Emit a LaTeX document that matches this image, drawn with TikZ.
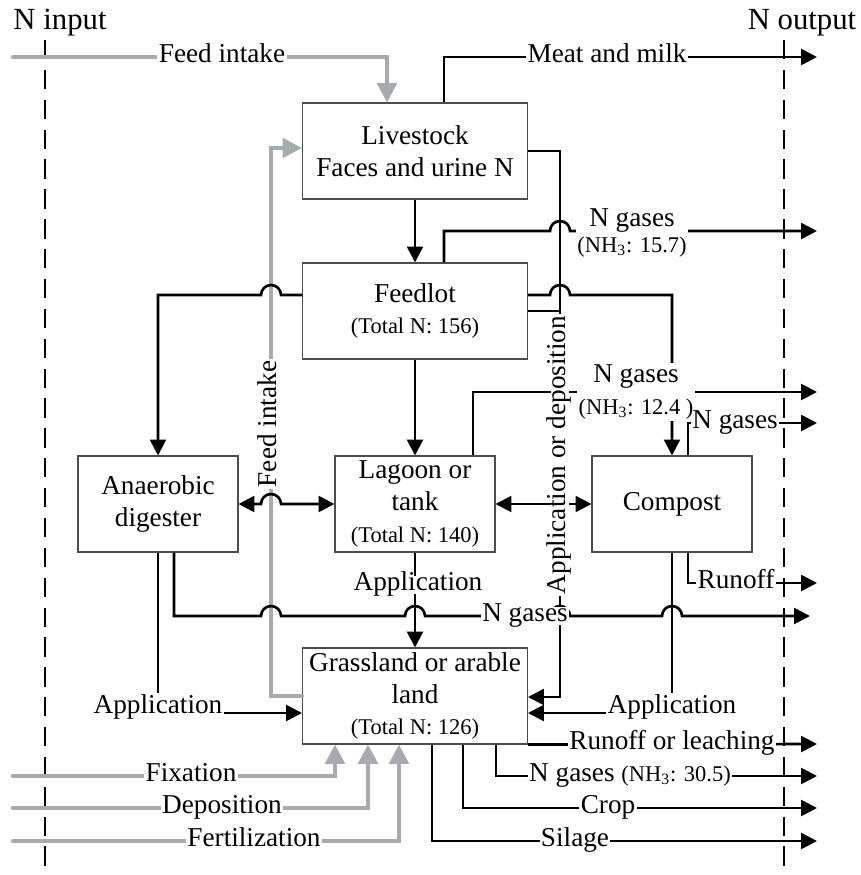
\documentclass[tikz,border=0pt]{standalone}
\usepackage{fontspec}
\setmainfont{Liberation Serif}
\usetikzlibrary{arrows.meta}
\newcommand\bigfs{\fontsize{15.5}{18}\selectfont}
\newcommand\smfs{\fontsize{12.8}{15}\selectfont}
\newcommand\ttlfs{\fontsize{17.5}{20}\selectfont}
\definecolor{feedgray}{RGB}{168,170,173}

\begin{document}
\begin{tikzpicture}[x=0.02cm, y=-0.02cm, font=\bigfs,
  box/.style={draw=black!70, line width=0.6pt, minimum height=1.92cm, align=center, inner sep=2pt},
  wide/.style={box, minimum width=4.5cm},
  narrow/.style={box, minimum width=3.2cm},
  flow/.style={line width=1.5pt, black},
  arr/.style={flow, -{Triangle[length=9pt,width=9pt]}},
  both/.style={flow, {Triangle[length=9pt,width=9pt]}-{Triangle[length=9pt,width=9pt]}},
  feed/.style={line width=2.4pt, feedgray, line cap=round, -{Triangle[length=11pt,width=11pt]}},
  border/.style={line width=1.3pt, dash pattern=on 11pt off 6pt},
  lbl/.style={fill=white, inner sep=0.8pt, text height=0.75em, text depth=0.17em},
  lbl2/.style={fill=white, inner sep=0.8pt, align=center}]
  \useasboundingbox (0,0) rectangle (861,875);
  % system borders
  \draw[border] (45,40) -- (45,875);
  \draw[border] (784,40) -- (784,875);
  \node[anchor=base, font=\ttlfs] (nin) at (60,30) {N input};
  \node[anchor=base, font=\ttlfs] (nout) at (802,30) {N output};
  % boxes
  \node[wide] (livestock) at (415,151) {Livestock\\Faces and urine N};
  \node[wide] (feedlot) at (415,311) {Feedlot\\{\smfs (Total N: 156)}};
  \node[narrow] (digester) at (158,504) {Anaerobic\\digester};
  \node[narrow] (lagoon) at (415,504) {Lagoon or\\tank\\{\smfs (Total N: 140)}};
  \node[narrow] (compost) at (672,504) {Compost};
  \node[wide] (grass) at (415,696) {Grassland or arable\\land\\{\smfs (Total N: 126)}};
  \node[anchor=base, inner sep=0.5pt] (appDig) at (158,713) {Application};
  \node[anchor=base, inner sep=0.5pt] (appComp) at (672,713) {Application};
  % gray inputs
  \coordinate (fin) at (13,57);
  \draw[feed] (fin) -- (387,57) -- (387,57 |- livestock.north);
  \draw[feed] (grass.west) -- (271,696) -- (271,148) -- (livestock.west |- 0,148);
  \draw[feed] (13,776) -- (335,776) -- (335,776 |- grass.south);
  \draw[feed] (13,808) -- (368,808) -- (368,808 |- grass.south);
  \draw[feed] (13,841) -- (399,841) -- (399,841 |- grass.south);
  % livestock
  \draw[arr] (444,0 |- livestock.north) -- (444,57) -- (817,57);
  \draw[arr] (livestock) -- (feedlot);
  \draw[arr] (livestock.east) -- (560,151) -- (560,697) -- (grass.east |- 0,697);
  % feedlot
  \draw[arr] (444,0 |- feedlot.north) -- (444,231) -- (550,231)
    arc[start angle=180, end angle=0, radius=0.2cm] -- (817,231);
  \draw[arr] (feedlot.west |- 0,295) -- (281,295)
    arc[start angle=0, end angle=180, radius=0.2cm] -- (158,295) -- (digester);
  \draw[arr] (feedlot.east |- 0,295) -- (550,295)
    arc[start angle=180, end angle=0, radius=0.2cm] -- (672,295) -- (compost);
  \draw[flow] (feedlot.east) -- (560,311);
  \draw[arr] (feedlot) -- (lagoon);
  % lagoon, digester, compost
  \draw[arr] (473,0 |- lagoon.north) -- (473,392) -- (817,392);
  \draw[arr] (688,0 |- compost.north) -- (688,423) -- (817,423);
  \draw[both] (digester.east) -- (261,504)
    arc[start angle=180, end angle=0, radius=0.2cm] -- (lagoon.west);
  \draw[both] (lagoon) -- (compost);
  \draw[arr] (lagoon) -- (grass);
  \draw[flow] (digester) -- (appDig);
  \draw[arr] (appDig.base east) -- (grass.west |- appDig.base east);
  \draw[flow] (compost) -- (appComp);
  \draw[arr] (appComp.base west) -- (grass.east |- appComp.base west);
  \draw[arr] (174,0 |- digester.south) -- (174,616) -- (261,616)
    arc[start angle=180, end angle=0, radius=0.2cm] -- (405,616)
    arc[start angle=180, end angle=0, radius=0.2cm] -- (550,616)
    arc[start angle=180, end angle=0, radius=0.2cm] -- (662,616)
    arc[start angle=180, end angle=0, radius=0.2cm] -- (810,616);
  \draw[arr] (688,0 |- compost.south) -- (688,583) -- (817,583);
  % grassland outputs
  \draw[arr] (grass.south east) -- (817,744);
  \draw[arr] (496,0 |- grass.south) -- (496,776) -- (817,776);
  \draw[arr] (463,0 |- grass.south) -- (463,808) -- (817,808);
  \draw[arr] (432,0 |- grass.south) -- (432,841) -- (817,841);
  % labels
  \node[lbl] (lFeed) at (222,57) {Feed intake};
  \node[lbl, rotate=90] (lFeed2) at (271,424) {Feed intake};
  \node[lbl] (lMeat) at (607,57) {Meat and milk};
  \node[lbl2] (lGas1) at (632,233) {N gases\\[-3pt]{\smfs (NH\textsubscript{3}: 15.7)}};
  \node[lbl, rotate=90] (lAppDep) at (560,455) {Application or deposition};
  \node[lbl2] (lGas2) at (636,392) {N gases\\{\smfs (NH\textsubscript{3}: 12.4 )}};
  \node[lbl] (lGas3) at (735,423) {N gases};
  \node[lbl] (lAppLag) at (418,585) {Application};
  \node[lbl] (lGas4) at (525,616) {N gases};
  \node[lbl] (lRunoff) at (736,583) {Runoff};
  \node[lbl] (lLeach) at (672,744) {Runoff or leaching};
  \node[lbl] (lGas5) at (630,776) {N gases {\smfs (NH\textsubscript{3}: 30.5)}};
  \node[lbl] (lCrop) at (608,808) {Crop};
  \node[lbl] (lSilage) at (575,841) {Silage};
  \node[lbl] (lFix) at (191,776) {Fixation};
  \node[lbl] (lDep) at (222,808) {Deposition};
  \node[lbl] (lFert) at (254,841) {Fertilization};
\end{tikzpicture}
\end{document}
